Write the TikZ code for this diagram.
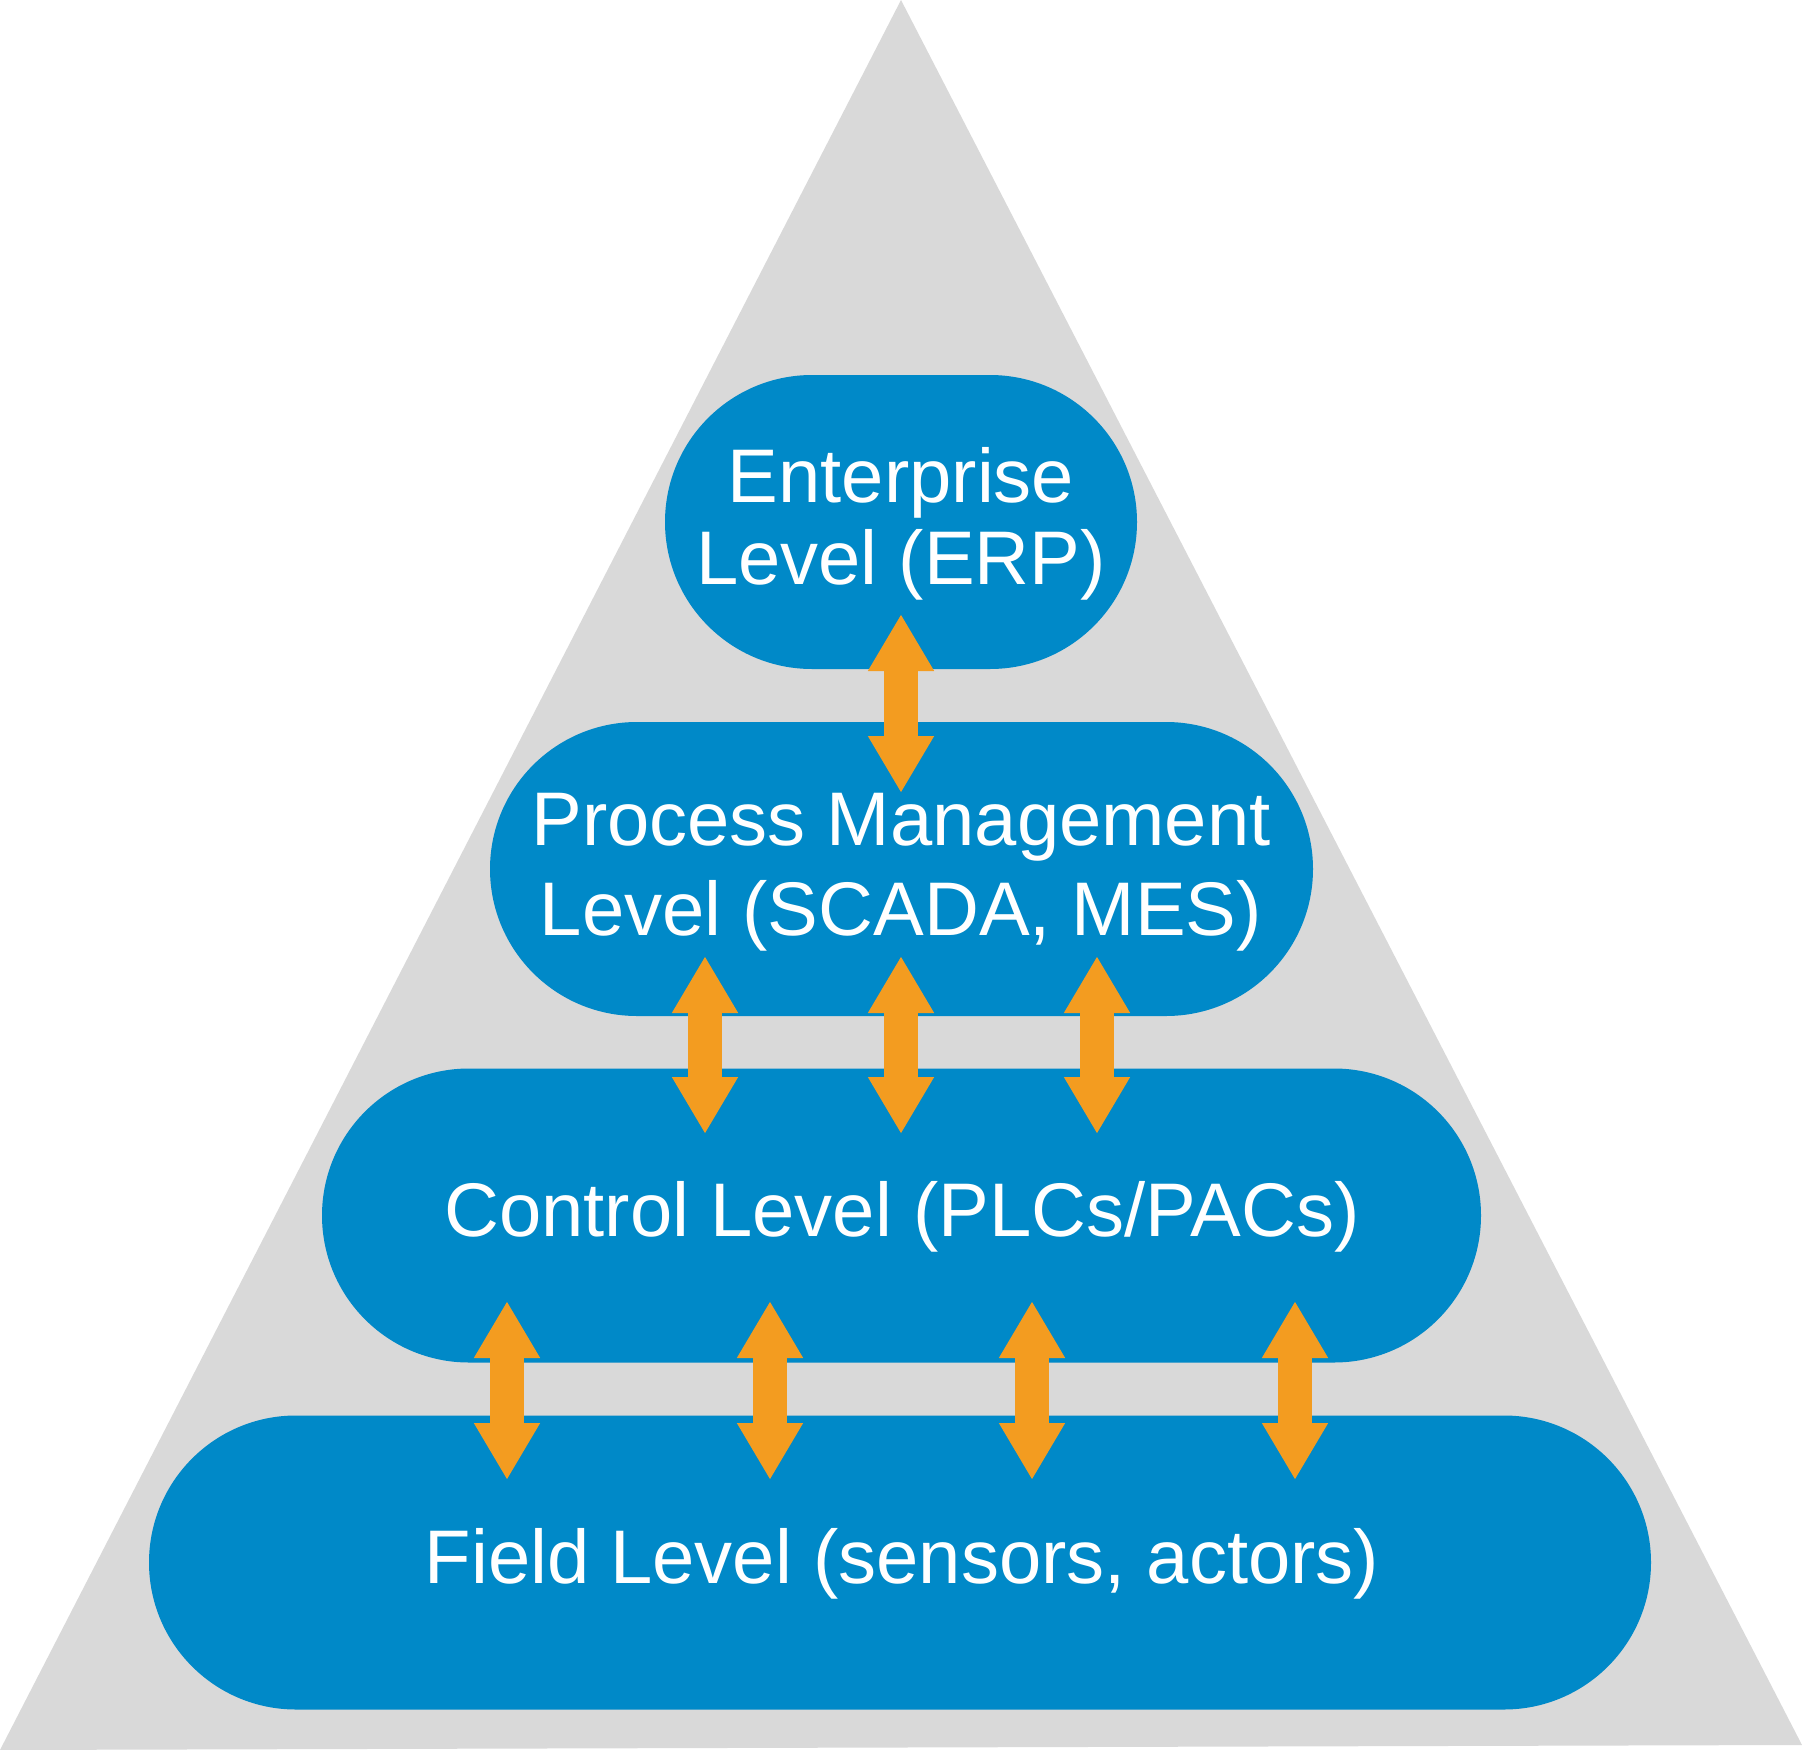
\documentclass[tikz,border=0pt]{standalone}
\usepackage{fontspec}
\setmainfont{Liberation Sans}
\usetikzlibrary{arrows.meta}
\definecolor{lvlblue}{HTML}{0089C8}
\definecolor{arrorange}{HTML}{F39C20}
\definecolor{pyrgray}{HTML}{D9D9D9}
\begin{document}
\begin{tikzpicture}[x=1pt,y=-1pt,
  level/.style={fill=lvlblue,draw=none,inner sep=0pt,rounded corners=147pt,minimum height=294pt},
  lbl/.style={text=white,font=\fontsize{76}{82}\selectfont,anchor=base,inner sep=0pt},
  dblarrow/.style={draw=arrorange,line width=34pt,line cap=butt,
    {Triangle[width=62pt,length=57pt]}-{Triangle[width=62pt,length=57pt]}}]
\useasboundingbox (0,0) rectangle (1802,1750);
% pyramid
\fill[pyrgray] (901,0) -- (1802,1745) -- (0,1750) -- cycle;
% levels
\node[level,minimum width=472pt]  (ent)   at (901,522) {};
\node[level,minimum width=823pt]  (proc)  at (901.5,869) {};
\node[level,minimum width=1159pt] (ctrl)  at (901.5,1215.5) {};
\node[level,minimum width=1502pt] (field) at (900,1562.5) {};
% labels
\node[lbl] (ent1)  at (901,502) {Enterprise};
\node[lbl] (ent2)  at (901,584) {Level (ERP)};
\node[lbl] (proc1) at (901,845) {Process Management};
\node[lbl] (proc2) at (901,935) {Level (SCADA, MES)};
\node[lbl] (ctrl1) at (902,1236) {Control Level (PLCs/PACs)};
\node[lbl] (fld1)  at (902,1583) {Field Level (sensors, actors)};
% arrow end points
\coordinate (a1t) at (901,614);   \coordinate (a1b) at (901,793);
\coordinate (b1t) at (705,956);   \coordinate (b1b) at (705,1134);
\coordinate (b2t) at (901,956);   \coordinate (b2b) at (901,1134);
\coordinate (b3t) at (1097,956);  \coordinate (b3b) at (1097,1134);
\coordinate (c1t) at (507,1301);  \coordinate (c1b) at (507,1480);
\coordinate (c2t) at (770,1301);  \coordinate (c2b) at (770,1480);
\coordinate (c3t) at (1032,1301); \coordinate (c3b) at (1032,1480);
\coordinate (c4t) at (1295,1301); \coordinate (c4b) at (1295,1480);
% arrows
\foreach \a in {a1,b1,b2,b3,c1,c2,c3,c4}
  \draw[dblarrow] (\a t) -- (\a b);
\end{tikzpicture}
\end{document}
